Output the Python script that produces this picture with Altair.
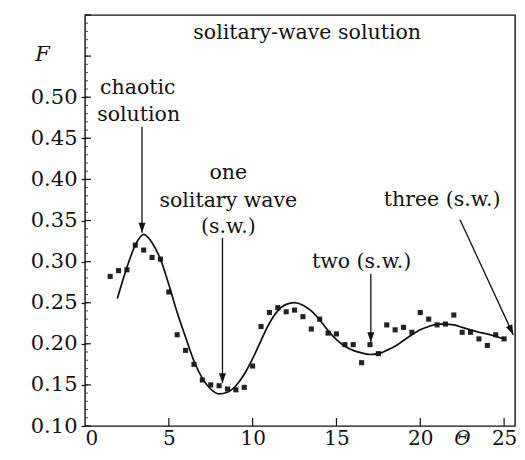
import altair as alt
import pandas as pd

# measured points (Theta, F)
theta_pts = [1.5, 2.0, 2.5, 3.0, 3.5, 4.0, 4.5, 5.0, 5.5, 6.0, 6.5, 7.0, 7.5, 8.0, 8.5, 9.0,
             9.5, 10.0, 10.5, 11.0, 11.5, 12.0, 12.5, 13.0, 13.5, 14.0, 14.5, 15.0, 15.5, 16.0,
             16.5, 17.0, 17.5, 18.0, 18.5, 19.0, 19.5, 20.0, 20.5, 21.0, 21.5, 22.0, 22.5, 23.0,
             23.5, 24.0, 24.5, 25.0]
f_pts = [0.282, 0.289, 0.290, 0.320, 0.314, 0.305, 0.303, 0.263, 0.211, 0.192, 0.175, 0.156,
         0.150, 0.149, 0.145, 0.144, 0.147, 0.173, 0.221, 0.238, 0.244, 0.239, 0.241, 0.233,
         0.218, 0.230, 0.213, 0.212, 0.199, 0.199, 0.177, 0.199, 0.188, 0.223, 0.217, 0.220,
         0.214, 0.238, 0.230, 0.223, 0.224, 0.235, 0.214, 0.214, 0.206, 0.198, 0.211, 0.206]

# theoretical curve
theta_curve = [1.93, 2.5, 3.0, 3.5, 4.0, 4.5, 5.0, 5.5, 6.0, 6.5, 7.0, 7.5, 8.0, 8.5, 9.0, 9.5,
               10.0, 10.5, 11.0, 11.5, 12.0, 12.5, 13.0, 13.5, 14.0, 14.5, 15.0, 15.5, 16.0,
               16.5, 17.0, 17.5, 18.0, 18.5, 19.0, 19.5, 20.0, 20.5, 21.0, 21.5, 22.0, 22.5,
               23.0, 23.5, 24.0, 24.5, 25.0]
f_curve = [0.255, 0.293, 0.320, 0.333, 0.323, 0.303, 0.272, 0.238, 0.208, 0.179, 0.158, 0.145,
           0.139, 0.141, 0.149, 0.163, 0.182, 0.204, 0.225, 0.240, 0.248, 0.250, 0.247, 0.240,
           0.229, 0.216, 0.205, 0.197, 0.192, 0.189, 0.187, 0.188, 0.192, 0.197, 0.204, 0.211,
           0.217, 0.221, 0.224, 0.224, 0.223, 0.220, 0.217, 0.214, 0.212, 0.209, 0.206]

# annotations
ann_text = ["solitary-wave solution", "chaotic", "solution", "one", "solitary wave", "(s.w.)",
            "two (s.w.)", "three (s.w.)"]
ann_x = [13.25, 3.15, 3.2, 8.55, 8.55, 8.55, 16.5, 21.3]
ann_y = [0.578, 0.511, 0.478, 0.408, 0.374, 0.342, 0.300, 0.375]

# arrows: start (x, y) -> tip (x2, y2)
arr_x = [3.40, 8.20, 17.05, 22.37]
arr_y = [0.464, 0.329, 0.285, 0.351]
arr_x2 = [3.40, 8.20, 17.05, 25.55]
arr_y2 = [0.335, 0.152, 0.202, 0.211]
arr_angle = [0, 0, 0, 334.8]

y_major = [0.10, 0.15, 0.20, 0.25, 0.30, 0.35, 0.40, 0.45, 0.50]
y_inner_major = [round(0.10 + 0.05 * i, 2) for i in range(11)]
y_minor = [round(0.10 + 0.01 * i, 2) for i in range(51)]
x_major = [0, 5, 10, 15, 20, 25]
x_inner = [5, 10, 15, 20, 25]

FONT = "DejaVu Serif"
W, H = 430, 411
xs = alt.Scale(domain=[0, 25.65], nice=False, zero=False)
ys = alt.Scale(domain=[0.10, 0.60], nice=False, zero=False)

pts = pd.DataFrame({"theta": theta_pts, "F": f_pts})
crv = pd.DataFrame({"theta": theta_curve, "F": f_curve})
ann = pd.DataFrame({"t": ann_text, "x": ann_x, "y": ann_y})
arr = pd.DataFrame({"x": arr_x, "y": arr_y, "x2": arr_x2, "y2": arr_y2, "a": arr_angle})

base_x = alt.X("theta:Q", scale=xs,
               axis=alt.Axis(values=x_major, format="d", ticks=False, domain=False, grid=False,
                             labelFont=FONT, labelFontSize=20, labelColor="#111",
                             labelPadding=2, title="Θ", titleFont=FONT,
                             titleFontStyle="italic", titleFontWeight="normal",
                             titleFontSize=20, titleColor="#111",
                             titleX=377, titleY=2, titleBaseline="top", titleAlign="center"))
base_y = alt.Y("F:Q", scale=ys,
               axis=alt.Axis(values=y_major, format=".2f", tickSize=4, tickColor="#111",
                             tickWidth=1.2, domain=False, grid=False,
                             labelFont=FONT, labelFontSize=21, labelColor="#111",
                             labelPadding=4, title="F", titleFont=FONT,
                             titleFontStyle="italic", titleFontWeight="normal",
                             titleFontSize=21, titleColor="#111", titleAngle=0,
                             titleX=-43, titleY=39, titleBaseline="middle",
                             titleAlign="center"))

points = alt.Chart(pts).mark_point(shape="square", filled=True, size=26, color="#222",
                                   opacity=1).encode(x=base_x, y=base_y)
curve = alt.Chart(crv).mark_line(color="#111", strokeWidth=1.7,
                                 interpolate="monotone").encode(
    x=alt.X("theta:Q", scale=xs), y=alt.Y("F:Q", scale=ys))

yminor = alt.Chart(pd.DataFrame({"v": y_minor})).mark_rule(color="#333", strokeWidth=0.9).encode(
    y=alt.Y("v:Q", scale=ys), x=alt.value(0), x2=alt.value(3))
yinner = alt.Chart(pd.DataFrame({"v": y_inner_major})).mark_rule(color="#111",
                                                                  strokeWidth=1.2).encode(
    y=alt.Y("v:Q", scale=ys), x=alt.value(0), x2=alt.value(6))
xinner = alt.Chart(pd.DataFrame({"v": x_inner})).mark_rule(color="#111", strokeWidth=1.2).encode(
    x=alt.X("v:Q", scale=xs), y=alt.value(H), y2=alt.value(H - 8))

texts = alt.Chart(ann).mark_text(font=FONT, fontSize=20.5, color="#111",
                                 baseline="middle", align="center").encode(
    x=alt.X("x:Q", scale=xs), y=alt.Y("y:Q", scale=ys), text="t:N")

shafts = alt.Chart(arr).mark_rule(color="#111", strokeWidth=1.3).encode(
    x=alt.X("x:Q", scale=xs), y=alt.Y("y:Q", scale=ys), x2="x2:Q", y2="y2:Q")
heads = alt.Chart(arr).mark_point(shape="M0,0 L-0.7,-2 L0.7,-2 Z", filled=True, size=100,
                                  color="#111", opacity=1).encode(
    x=alt.X("x2:Q", scale=xs), y=alt.Y("y2:Q", scale=ys), angle=alt.Angle("a:Q", scale=None))

chart = alt.layer(points, curve, yminor, yinner, xinner, shafts, heads, texts).properties(
    width=W, height=H,
    autosize=alt.AutoSizeParams(type="none"),
    padding={"left": 77, "top": 7, "right": 2, "bottom": 26},
    background="white",
).configure_view(stroke="#111", strokeWidth=1.4)

chart.save("out.html", embed_options={"renderer": "svg", "actions": False})
